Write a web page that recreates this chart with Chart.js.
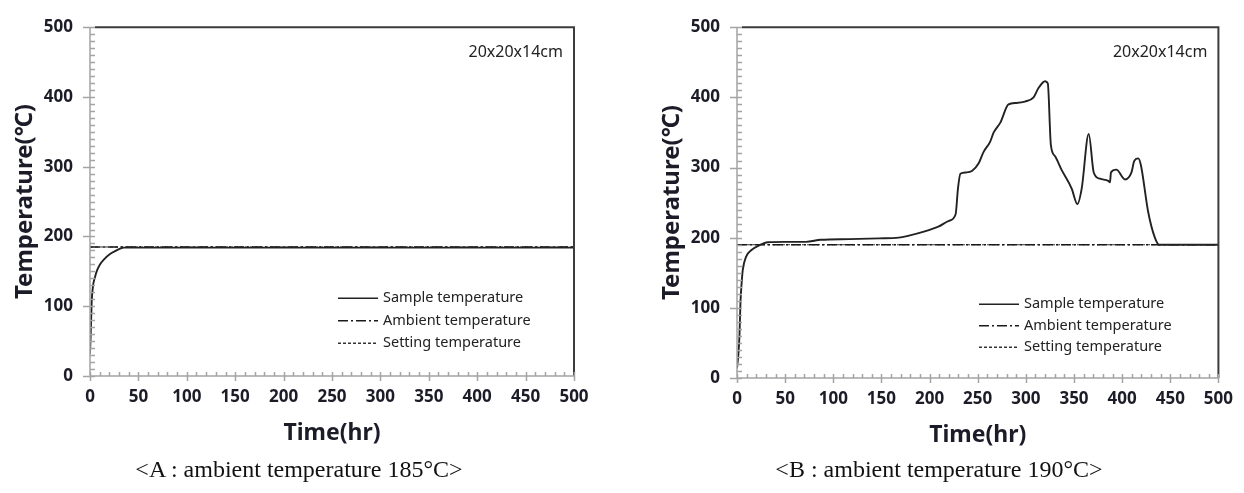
<!DOCTYPE html>
<html lang="en">
<head>
    <meta charset="UTF-8">
    <title>Temperature vs Time</title>
    <script src="https://cdn.jsdelivr.net/npm/chart.js"></script>
    <style>
        * { margin: 0; padding: 0; box-sizing: border-box; }
        body { background: #fff; width: 1244px; height: 493px; position: relative; overflow: hidden; }
        .box { position: absolute; top: 0; width: 622px; height: 460px; }
        #boxA { left: 0; }
        #boxB { left: 622px; }
        .caption {
            position: absolute; top: 456px; width: 500px; text-align: center;
            font-family: 'Liberation Serif', 'Times New Roman', serif; font-size: 24px; color: #111;
        }
        #capA { left: 49px; }
        #capB { left: 689px; }
    </style>
</head>
<body>
    <div class="box" id="boxA"><canvas id="chartA" width="622" height="460"></canvas></div>
    <div class="box" id="boxB"><canvas id="chartB" width="622" height="460"></canvas></div>
    <div class="caption" id="capA">&lt;A : ambient temperature 185°C&gt;</div>
    <div class="caption" id="capB">&lt;B : ambient temperature 190°C&gt;</div>

    <script>
        // chart A: 185 C ambient
        const timeA = [0, 0.7, 1.7, 3, 5.2, 7.5, 10.3, 15, 20.7, 26, 31, 35, 50, 100, 200, 300, 400, 500];
        const sampleA = [32, 59, 105, 128, 142, 152, 160, 168, 175, 179, 182.5, 184, 184, 184, 184, 184, 184, 184];
        const ambientA = [185, 185];
        const settingA = [185, 185];

        // chart B: 190 C ambient
        const timeB = [0, 1.5, 2.6, 3.6, 4.8, 6, 9.5, 14.7, 23, 32, 50, 71.6, 87, 116.5, 147.5, 168, 178.6, 195,
            209.6, 220, 227, 229.5, 232, 238, 244, 251, 256, 263, 266.6, 273.5, 282, 290, 299, 308, 313, 320,
            322.8, 326, 330.4, 337, 347.6, 353.5, 358, 365.3, 370.5, 377, 385.6, 387.4, 388.4, 394, 403, 409.7,
            412.5, 416.7, 419.4, 427, 434, 438.4, 450, 500];
        const sampleB = [14, 35, 62, 108, 135, 154, 173, 182, 189, 193.5, 194, 194, 197, 198, 199, 200, 203, 209,
            216, 224, 233, 270, 291, 293, 295, 306, 322, 337, 350, 364, 390, 392, 394, 400, 413, 423,
            420, 332, 316, 297, 270, 248, 270, 348, 293, 284, 281, 279, 293, 297, 283, 293,
            309, 313, 304, 237, 200, 190, 190, 190];
        const ambientB = [190, 190];
        const settingB = [190, 190];

        const lineTime = [0, 500];
        const seriesNames = ['Sample temperature', 'Ambient temperature', 'Setting temperature'];
        const sizeLabel = '20x20x14cm';

        const textColor = '#1c1c28';
        const tickFont = { family: 'Noto Sans', size: 17, weight: 'bold' };

        function pts(xs, ys) {
            return xs.map((x, i) => ({ x: x, y: ys[i] }));
        }

        // axis frame, inner/outer ticks, legend and size label
        const framePlugin = {
            id: 'frame',
            afterDatasetsDraw(chart, args, opts) {
                const { ctx, chartArea: a, scales: { x, y } } = chart;
                ctx.save();

                ctx.strokeStyle = '#3c3c3c';
                ctx.lineWidth = 2;
                ctx.beginPath();
                ctx.moveTo(a.left + 5, a.top);
                ctx.lineTo(a.right, a.top);
                ctx.lineTo(a.right, a.bottom);
                ctx.stroke();

                ctx.strokeStyle = '#a4a4a4';
                ctx.lineWidth = 1.5;
                ctx.beginPath();
                ctx.moveTo(a.left, a.top);
                ctx.lineTo(a.left, a.bottom);
                ctx.lineTo(a.right, a.bottom);
                for (let v = 0; v <= 500; v += 10) {
                    const py = Math.round(y.getPixelForValue(v)) + 0.5;
                    const major = v % 100 === 0;
                    ctx.moveTo(a.left - (major ? 7 : 0), py);
                    ctx.lineTo(a.left + 5, py);
                    const px = Math.round(x.getPixelForValue(v)) + 0.5;
                    const majorX = v % 50 === 0;
                    ctx.moveTo(px, a.bottom + (majorX ? 5 : 0));
                    ctx.lineTo(px, a.bottom - 4);
                }
                ctx.stroke();

                // legend
                ctx.font = '14.5px "Noto Sans"';
                ctx.textBaseline = 'middle';
                ctx.fillStyle = '#222';
                chart.data.datasets.forEach((ds, i) => {
                    const ly = a.top + opts.legendY + i * opts.legendGap;
                    const lx = a.left + opts.legendX;
                    ctx.strokeStyle = ds.borderColor;
                    ctx.lineWidth = 1.4;
                    ctx.setLineDash(ds.borderDash || []);
                    ctx.beginPath();
                    ctx.moveTo(lx, ly);
                    ctx.lineTo(lx + 40, ly);
                    ctx.stroke();
                    ctx.setLineDash([]);
                    ctx.fillText(ds.label, lx + 45, ly);
                });

                ctx.font = '16px "Noto Sans"';
                ctx.textAlign = 'right';
                ctx.fillText(sizeLabel, a.right - 11, a.top + 25);
                ctx.restore();
            }
        };

        function makeChart(id, times, sample, ambient, setting, layout) {
            return new Chart(document.getElementById(id), {
                type: 'line',
                data: {
                    datasets: [{
                        label: seriesNames[0],
                        data: pts(times, sample),
                        borderColor: '#222',
                        borderWidth: 1.9,
                        cubicInterpolationMode: 'monotone'
                    }, {
                        label: seriesNames[1],
                        data: pts(lineTime, ambient),
                        borderColor: '#1a1a1a',
                        borderWidth: 1.6,
                        borderDash: [10, 3, 2, 3]
                    }, {
                        label: seriesNames[2],
                        data: pts(lineTime, setting),
                        borderColor: '#333',
                        borderWidth: 1.1,
                        borderDash: [3, 2]
                    }]
                },
                options: {
                    responsive: false,
                    animation: false,
                    elements: { point: { radius: 0 } },
                    layout: { padding: layout.padding },
                    scales: {
                        x: {
                            type: 'linear',
                            min: 0,
                            max: 500,
                            grid: { display: false, drawTicks: false },
                            border: { display: false },
                            ticks: { stepSize: 50, font: tickFont, color: textColor, padding: 11, maxRotation: 0 },
                            title: {
                                display: true,
                                text: 'Time(hr)',
                                color: textColor,
                                font: { family: 'Noto Sans', size: 23, weight: 'bold' },
                                padding: { top: 0, bottom: 9 }
                            },
                            afterFit(s) { s.height = 80; }
                        },
                        y: {
                            min: 0,
                            max: 500,
                            grid: { display: false, drawTicks: false },
                            border: { display: false },
                            ticks: { stepSize: 100, font: tickFont, color: textColor, padding: 17 },
                            title: {
                                display: true,
                                text: 'Temperature(℃)',
                                color: textColor,
                                font: { family: 'Noto Sans', size: 24, weight: 'bold' },
                                padding: { top: 11, bottom: 0 }
                            },
                            afterFit(s) { s.width = 90; }
                        }
                    },
                    plugins: {
                        legend: { display: false },
                        tooltip: { enabled: false },
                        frame: layout.frame
                    }
                },
                plugins: [framePlugin]
            });
        }

        makeChart('chartA', timeA, sampleA, ambientA, settingA, {
            padding: { left: 0, right: 48, top: 16, bottom: 4 },
            frame: { legendX: 248, legendY: 271, legendGap: 22.5 }
        });
        makeChart('chartB', timeB, sampleB, ambientB, settingB, {
            padding: { left: 25, right: 24, top: 18, bottom: 2 },
            frame: { legendX: 242, legendY: 277, legendGap: 21.5 }
        });
    </script>
</body>
</html>
